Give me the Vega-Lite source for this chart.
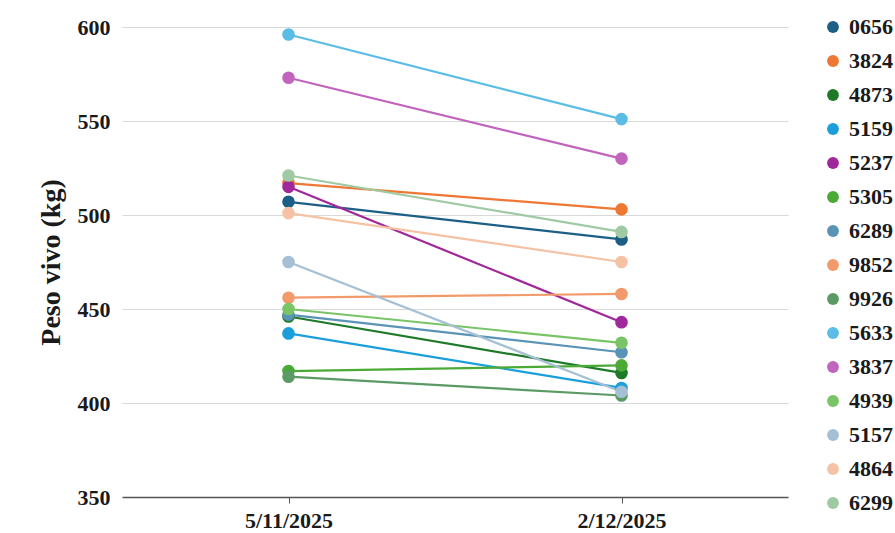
{
  "$schema": "https://vega.github.io/schema/vega-lite/v6.json",
  "width": 666,
  "height": 470,
  "autosize": {"type": "none"},
  "padding": {"left": 122, "top": 27, "right": 107, "bottom": 36},
  "background": "white",
  "config": {
    "view": {"stroke": null},
    "font": "Liberation Serif"
  },
  "data": {
    "values": [
      {"animal": "0656", "fecha": "5/11/2025", "peso": 507},
      {"animal": "0656", "fecha": "2/12/2025", "peso": 487},
      {"animal": "3824", "fecha": "5/11/2025", "peso": 517},
      {"animal": "3824", "fecha": "2/12/2025", "peso": 503},
      {"animal": "4873", "fecha": "5/11/2025", "peso": 446},
      {"animal": "4873", "fecha": "2/12/2025", "peso": 416},
      {"animal": "5159", "fecha": "5/11/2025", "peso": 437},
      {"animal": "5159", "fecha": "2/12/2025", "peso": 408},
      {"animal": "5237", "fecha": "5/11/2025", "peso": 515},
      {"animal": "5237", "fecha": "2/12/2025", "peso": 443},
      {"animal": "5305", "fecha": "5/11/2025", "peso": 417},
      {"animal": "5305", "fecha": "2/12/2025", "peso": 420},
      {"animal": "6289", "fecha": "5/11/2025", "peso": 447},
      {"animal": "6289", "fecha": "2/12/2025", "peso": 427},
      {"animal": "9852", "fecha": "5/11/2025", "peso": 456},
      {"animal": "9852", "fecha": "2/12/2025", "peso": 458},
      {"animal": "9926", "fecha": "5/11/2025", "peso": 414},
      {"animal": "9926", "fecha": "2/12/2025", "peso": 404},
      {"animal": "5633", "fecha": "5/11/2025", "peso": 596},
      {"animal": "5633", "fecha": "2/12/2025", "peso": 551},
      {"animal": "3837", "fecha": "5/11/2025", "peso": 573},
      {"animal": "3837", "fecha": "2/12/2025", "peso": 530},
      {"animal": "4939", "fecha": "5/11/2025", "peso": 450},
      {"animal": "4939", "fecha": "2/12/2025", "peso": 432},
      {"animal": "5157", "fecha": "5/11/2025", "peso": 475},
      {"animal": "5157", "fecha": "2/12/2025", "peso": 406},
      {"animal": "4864", "fecha": "5/11/2025", "peso": 501},
      {"animal": "4864", "fecha": "2/12/2025", "peso": 475},
      {"animal": "6299", "fecha": "5/11/2025", "peso": 521},
      {"animal": "6299", "fecha": "2/12/2025", "peso": 491}
    ]
  },
  "encoding": {
    "x": {
      "field": "fecha",
      "type": "ordinal",
      "sort": ["5/11/2025", "2/12/2025"],
      "scale": {"type": "point", "padding": 0.5},
      "axis": {
        "title": null,
        "labelAngle": 0,
        "labelFont": "Liberation Serif",
        "labelFontSize": 22,
        "labelFontWeight": "bold",
        "labelColor": "#1a1a1a",
        "labelPadding": 7,
        "domainColor": "#555555",
        "domainWidth": 1.5,
        "tickColor": "#555555",
        "tickSize": 6,
        "grid": false
      }
    },
    "y": {
      "field": "peso",
      "type": "quantitative",
      "scale": {"domain": [350, 600], "nice": false, "zero": false},
      "axis": {
        "title": "Peso vivo (kg)",
        "titleFont": "Liberation Serif",
        "titleFontSize": 28,
        "titleFontWeight": "bold",
        "titleColor": "#1a1a1a",
        "titlePadding": 12,
        "values": [350, 400, 450, 500, 550, 600],
        "labelFont": "Liberation Serif",
        "labelFontSize": 22,
        "labelFontWeight": "bold",
        "labelColor": "#1a1a1a",
        "labelPadding": 12,
        "ticks": false,
        "domain": false,
        "grid": true,
        "gridColor": "#d9d9d9",
        "gridWidth": 1
      }
    },
    "color": {
      "field": "animal",
      "type": "nominal",
      "scale": {
        "domain": ["0656", "3824", "4873", "5159", "5237", "5305", "6289", "9852", "9926", "5633", "3837", "4939", "5157", "4864", "6299"],
        "range": ["#1c5f86", "#ee7733", "#1e7a28", "#1a9fdb", "#a0289a", "#4aaa35", "#5a93b5", "#f29a6b", "#5b9a64", "#5bbde6", "#c064bd", "#79c466", "#a5c0d4", "#f5c2a5", "#9fcaa3"]
      },
      "legend": {
        "title": null,
        "orient": "none",
        "legendX": 700,
        "legendY": -11,
        "symbolType": "circle",
        "symbolSize": 140,
        "symbolStrokeWidth": 0,
        "labelFont": "Liberation Serif",
        "labelFontSize": 22,
        "labelFontWeight": "bold",
        "labelColor": "#1a1a1a",
        "labelOffset": 5,
        "rowPadding": 12
      }
    }
  },
  "layer": [
    {"mark": {"type": "line", "strokeWidth": 2.2}},
    {"mark": {"type": "point", "filled": true, "opacity": 1, "size": 160}}
  ]
}
